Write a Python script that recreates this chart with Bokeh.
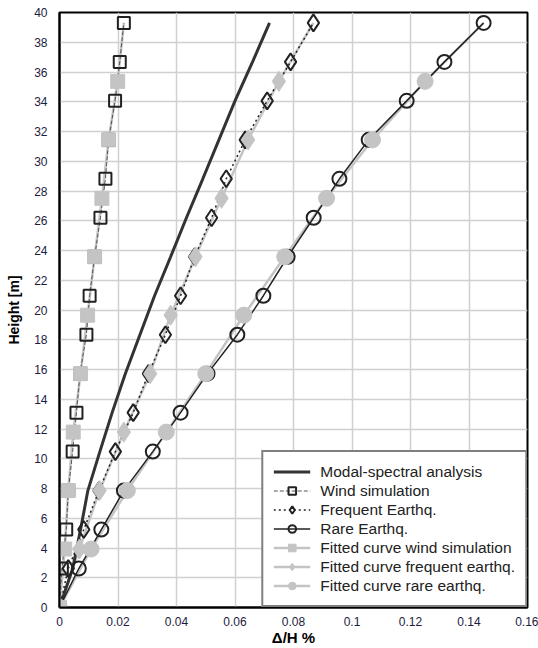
from bokeh.plotting import figure
from bokeh.models import Legend, LegendItem, FixedTicker, CustomJSTickFormatter, Range1d
from bokeh.embed import file_html
from bokeh.resources import INLINE

# Storey heights [m]
heights = [0, 2.62, 5.24, 7.86, 10.48, 13.1, 15.72, 18.34, 20.96, 23.58, 26.2, 28.82, 31.44, 34.06, 36.68, 39.3]
modal = [0, 0.0045, 0.0072, 0.0097, 0.0138, 0.018, 0.0225, 0.0275, 0.0325, 0.038, 0.0434, 0.049, 0.0545, 0.060, 0.066, 0.0718]
wind = [0, 0.0008, 0.0023, 0.003, 0.0045, 0.0058, 0.007, 0.0092, 0.0103, 0.012, 0.014, 0.0157, 0.0168, 0.019, 0.0206, 0.022]
freq = [0, 0.003, 0.0083, 0.0135, 0.0191, 0.0252, 0.0304, 0.0362, 0.0414, 0.0462, 0.052, 0.057, 0.0635, 0.071, 0.079, 0.0868]
rare = [0, 0.0066, 0.0143, 0.022, 0.0319, 0.0414, 0.0506, 0.0608, 0.0697, 0.078, 0.0869, 0.0957, 0.1057, 0.1187, 0.1316, 0.145]

# Fitted curves
fit_heights = [0, 3.93, 7.86, 11.79, 15.72, 19.65, 23.58, 27.51, 31.44, 35.37, 39.3]
fit_wind = [0, 0.0018, 0.003, 0.0047, 0.0072, 0.0096, 0.012, 0.0145, 0.0168, 0.0199, 0.022]
fit_freq = [0, 0.0068, 0.0137, 0.022, 0.031, 0.038, 0.0465, 0.0554, 0.0645, 0.075, 0.0868]
fit_rare = [0, 0.0108, 0.0232, 0.0365, 0.050, 0.063, 0.077, 0.0913, 0.107, 0.125, 0.145]
n_fit_markers = 10

x_ticks = [0, 0.02, 0.04, 0.06, 0.08, 0.1, 0.12, 0.14, 0.16]
y_ticks = list(range(0, 41, 2))

FONT = "Liberation Sans"
GREY = "#c4c4c4"
DARK = "#222222"
TICK_COLOR = "#1c1c40"

p = figure(width=538, height=648, output_backend="svg", toolbar_location=None,
           x_range=Range1d(0, 0.16), y_range=Range1d(0, 40),
           min_border_left=59, min_border_top=12, min_border_right=11, min_border_bottom=41)
p.background_fill_color = "white"
p.border_fill_color = "white"
p.outline_line_color = "black"
p.outline_line_width = 2

for ax in (p.xaxis[0], p.yaxis[0]):
    ax.axis_line_color = "black"
    ax.axis_line_width = 2
    ax.major_tick_line_color = None
    ax.minor_tick_line_color = None
    ax.major_label_text_font = FONT
    ax.major_label_text_font_size = "12px"
    ax.major_label_text_color = TICK_COLOR
    ax.axis_label_text_font = FONT
    ax.axis_label_text_font_style = "bold"
    ax.axis_label_text_color = "black"

p.xaxis.axis_label_text_font_size = "15px"
p.yaxis.axis_label_text_font_size = "14px"
p.xaxis.ticker = FixedTicker(ticks=x_ticks)
p.yaxis.ticker = FixedTicker(ticks=y_ticks)
p.xaxis.formatter = CustomJSTickFormatter(code="""
    if (Math.abs(tick) < 1e-9) return '0';
    return tick.toFixed(2).replace(/0+$/, '').replace(/\\.$/, '');
""")
p.xaxis.major_label_standoff = 3
p.xaxis.axis_label_standoff = 0
p.yaxis.major_label_standoff = 6
p.yaxis.axis_label_standoff = 9
p.xaxis.axis_label = "\u0394/H %"
p.yaxis.axis_label = "Height [m]"

p.grid.grid_line_color = "#d0d0d0"
p.grid.grid_line_width = 1.5

# Fitted lines (grey)
fl_w = p.line(fit_wind, fit_heights, line_color=GREY, line_width=2.5)
fl_f = p.line(fit_freq, fit_heights, line_color=GREY, line_width=2.5)
fl_r = p.line(fit_rare, fit_heights, line_color=GREY, line_width=2.5)

# Data lines
ml = p.line(modal, heights, line_color="#333333", line_width=3)
wl = p.line(wind, heights, line_color="#555555", line_width=1, line_dash="4 2")
fqline = p.line(freq, heights, line_color=DARK, line_width=1.5, line_dash="2 3")
rl = p.line(rare, heights, line_color=DARK, line_width=1.5)

# Data markers (open)
ws = p.scatter(wind, heights, marker="square", size=12, fill_color=None, line_color=DARK, line_width=2)
fs = p.scatter(freq, heights, marker="diamond", size=17, fill_color=None, line_color=DARK, line_width=2)
rs = p.scatter(rare, heights, marker="circle", size=14, fill_color=None, line_color=DARK, line_width=2)

# Fitted markers (filled grey)
fws = p.scatter(fit_wind[:n_fit_markers], fit_heights[:n_fit_markers], marker="square", size=14,
                fill_color=GREY, line_color=GREY)
ffs = p.scatter(fit_freq[:n_fit_markers], fit_heights[:n_fit_markers], marker="diamond", size=20,
                fill_color=GREY, line_color=GREY)
frs = p.scatter(fit_rare[:n_fit_markers], fit_heights[:n_fit_markers], marker="circle", size=16,
                fill_color=GREY, line_color=GREY)

legend = Legend(items=[
    LegendItem(label="Modal-spectral analysis", renderers=[ml]),
    LegendItem(label="Wind simulation", renderers=[wl, ws]),
    LegendItem(label="Frequent Earthq.", renderers=[fqline, fs]),
    LegendItem(label="Rare Earthq.", renderers=[rl, rs]),
    LegendItem(label="Fitted curve wind simulation", renderers=[fl_w, fws]),
    LegendItem(label="Fitted curve frequent earthq.", renderers=[fl_f, ffs]),
    LegendItem(label="Fitted curve rare earthq.", renderers=[fl_r, frs]),
], location="bottom_right")
legend.margin = 0
legend.padding = 10
legend.spacing = 0
legend.glyph_width = 37
legend.glyph_height = 19
legend.label_height = 19
legend.label_standoff = 10
legend.label_text_font = FONT
legend.label_text_font_size = "15.5px"
legend.label_text_color = DARK
legend.border_line_color = "black"
legend.border_line_width = 2
legend.background_fill_color = "white"
legend.background_fill_alpha = 1
p.add_layout(legend, "center")

open("out.html", "w").write(file_html(p, INLINE))
